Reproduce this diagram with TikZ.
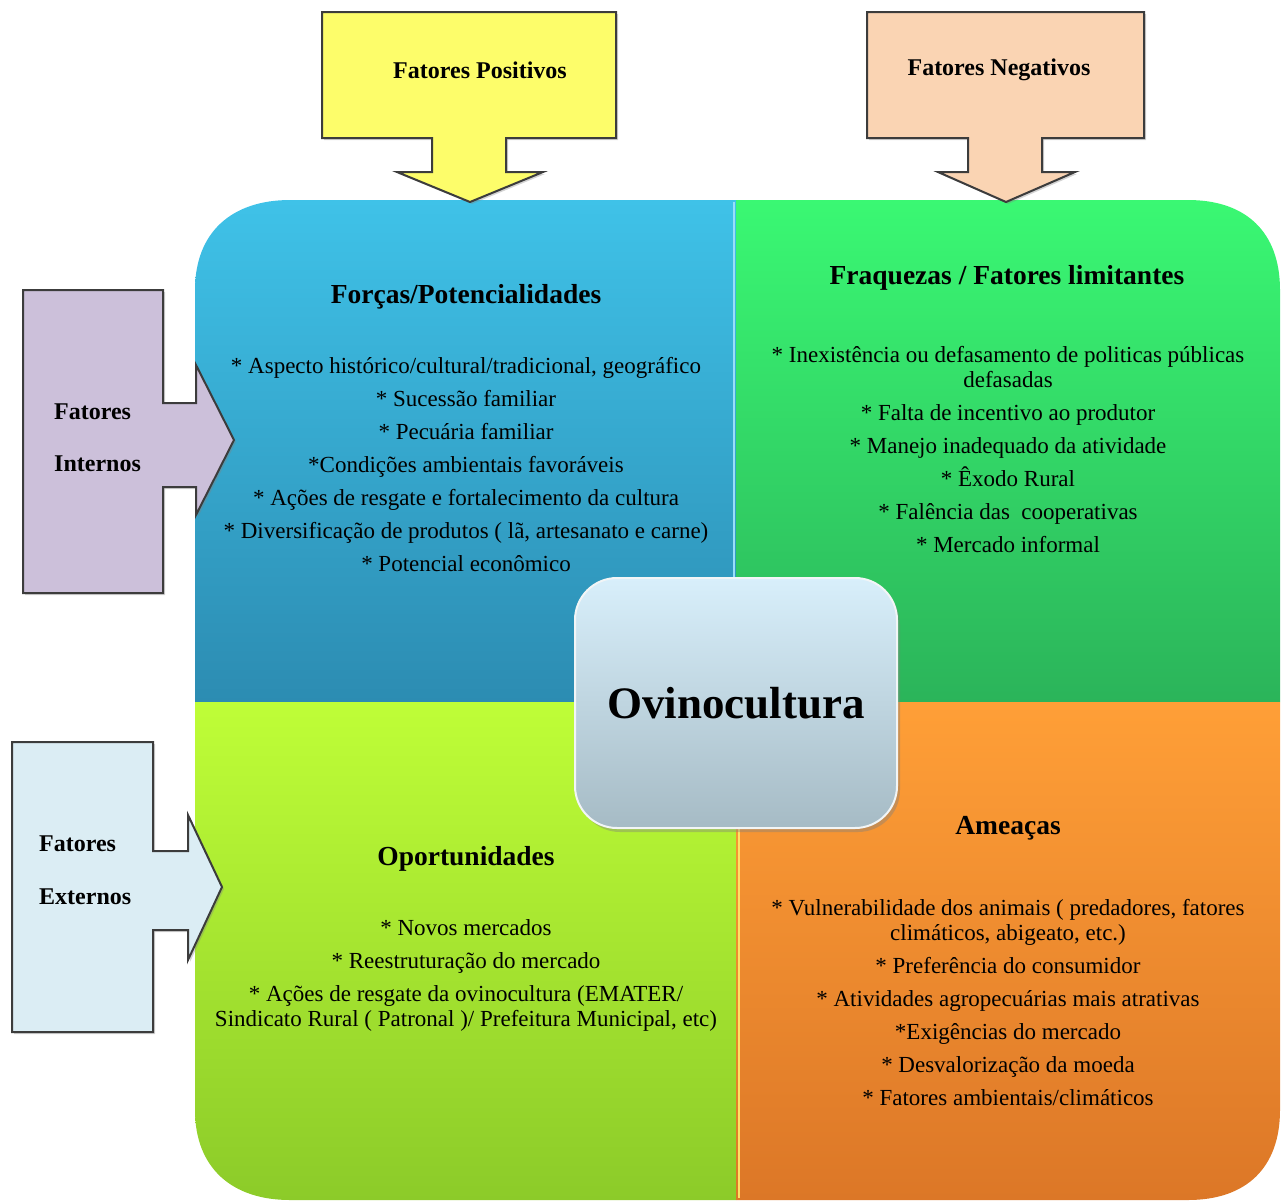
\documentclass[tikz,border=0pt]{standalone}
\usepackage{fontspec}
\setmainfont{Liberation Serif}
\usetikzlibrary{shadows}
\definecolor{bluetop}{HTML}{3FC2E8}
\definecolor{bluebot}{HTML}{2C8CB2}
\definecolor{greentop}{HTML}{3AF873}
\definecolor{greenbot}{HTML}{2BB45A}
\definecolor{limetop}{HTML}{BFFE37}
\definecolor{limebot}{HTML}{8CCB29}
\definecolor{orangetop}{HTML}{FF9F37}
\definecolor{orangebot}{HTML}{DC7727}
\definecolor{yellowbox}{HTML}{FDFD6A}
\definecolor{peachbox}{HTML}{FAD4B3}
\definecolor{lilacbox}{HTML}{CCC0DA}
\definecolor{paleblue}{HTML}{DBEDF4}
\definecolor{edgegray}{HTML}{3C3C3C}
\definecolor{ctrtop}{HTML}{D8EFFB}
\definecolor{ctrbot}{HTML}{A6BBC5}
\tikzset{
  arrowshape/.style={draw=edgegray, line width=2pt, line join=miter,
    drop shadow={shadow xshift=2pt, shadow yshift=-2pt, opacity=0.35}},
  sidelabel/.style={font=\fontsize{24}{28}\selectfont\bfseries, inner sep=0pt},
  quadtitle/.style={font=\fontsize{27.5}{31}\selectfont\bfseries, inner sep=0pt},
  listtext/.style={font=\fontsize{23}{25}\selectfont, align=center, inner sep=0pt},
}
\begin{document}
\begin{tikzpicture}[x=1pt,y=-1pt]
\useasboundingbox (0,0) rectangle (1285,1200);

% quadrants
\path[top color=bluetop, bottom color=bluebot]
  (195,702) -- (195,290) .. controls (195,232) and (232,200) .. (290,200)
  -- (736,200) -- (736,702) -- cycle;
\path[top color=greentop, bottom color=greenbot]
  (736,200) -- (1188,200) .. controls (1246,200) and (1280,232) .. (1280,290)
  -- (1280,702) -- (736,702) -- cycle;
\path[top color=limetop, bottom color=limebot]
  (195,702) -- (736,702) -- (736,1200) -- (290,1200)
  .. controls (232,1200) and (195,1168) .. (195,1110) -- cycle;
\path[top color=orangetop, bottom color=orangebot]
  (736,702) -- (1280,702) -- (1280,1110)
  .. controls (1280,1168) and (1246,1200) .. (1188,1200) -- (736,1200) -- cycle;
\draw[cyan!40, line width=2pt] (734,202) -- (734,700);
\draw[yellow!70!orange!60, line width=2pt] (739,704) -- (739,1198);

% arrows
\draw[arrowshape, fill=yellowbox]
  (322,12) -- (616,12) -- (616,138) -- (506,138) -- (506,172) -- (543,172)
  -- (470,202) -- (397,172) -- (432,172) -- (432,138) -- (322,138) -- cycle;
\draw[arrowshape, fill=peachbox]
  (867,12) -- (1144,12) -- (1144,138) -- (1042,138) -- (1042,172) -- (1075,172)
  -- (1006,202) -- (938,172) -- (968,172) -- (968,138) -- (867,138) -- cycle;
\draw[arrowshape, fill=lilacbox]
  (23,290) -- (163,290) -- (163,403) -- (196,403) -- (196,365) -- (234,440)
  -- (196,515) -- (196,487) -- (163,487) -- (163,593) -- (23,593) -- cycle;
\draw[arrowshape, fill=paleblue]
  (12,742) -- (153,742) -- (153,851) -- (188,851) -- (188,815) -- (222,887)
  -- (188,960) -- (188,930) -- (153,930) -- (153,1032) -- (12,1032) -- cycle;

\node[sidelabel] (pos) at (480,70) {Fatores Positivos};
\node[sidelabel] (neg) at (999,70) {Fatores Negativos};
\node[sidelabel, anchor=west] (int1) at (54,412) {Fatores};
\node[sidelabel, anchor=west] (int2) at (54,464) {Internos};
\node[sidelabel, anchor=west] (ext1) at (39,844) {Fatores};
\node[sidelabel, anchor=west] (ext2) at (39,897) {Externos};

% titles
\node[quadtitle] (tf) at (466,297) {Forças/Potencialidades};
\node[quadtitle] (tw) at (1007,278) {Fraquezas / Fatores limitantes};
\node[quadtitle] (to) at (466,859) {Oportunidades};
\node[quadtitle] (tt) at (1008,828) {Ameaças};

% lists
\node[listtext, anchor=north] (lf) at (466,357) {%
* Aspecto histórico/cultural/tradicional, geográfico\\[8pt]
* Sucessão familiar\\[8pt]
* Pecuária familiar\\[8pt]
*Condições ambientais favoráveis\\[8pt]
* Ações de resgate e fortalecimento da cultura\\[8pt]
* Diversificação de produtos ( lã, artesanato e carne)\\[8pt]
* Potencial econômico};
\node[listtext, anchor=north] (lw) at (1008,346) {%
* Inexistência ou defasamento de politicas públicas\\
defasadas\\[8pt]
* Falta de incentivo ao produtor\\[8pt]
* Manejo inadequado da atividade\\[8pt]
* Êxodo Rural\\[8pt]
* Falência das \ cooperativas\\[8pt]
* Mercado informal};
\node[listtext, anchor=north] (lo) at (466,919) {%
* Novos mercados\\[8pt]
* Reestruturação do mercado\\[8pt]
* Ações de resgate da ovinocultura (EMATER/\\
Sindicato Rural ( Patronal )/ Prefeitura Municipal, etc)};
\node[listtext, anchor=north] (lt) at (1008,899) {%
* Vulnerabilidade dos animais ( predadores, fatores\\
climáticos, abigeato, etc.)\\[8pt]
* Preferência do consumidor\\[8pt]
* Atividades agropecuárias mais atrativas\\[8pt]
*Exigências do mercado\\[8pt]
* Desvalorização da moeda\\[8pt]
* Fatores ambientais/climáticos};

% centre
\node[draw=white!85!ctrbot, line width=2pt, rounded corners=42pt,
  minimum width=322pt, minimum height=250pt,
  top color=ctrtop, bottom color=ctrbot,
  drop shadow={shadow xshift=3pt, shadow yshift=-4pt, opacity=0.4},
  font=\fontsize{45}{50}\selectfont\bfseries] (ctr) at (736,703) {Ovinocultura};
\end{tikzpicture}
\end{document}
